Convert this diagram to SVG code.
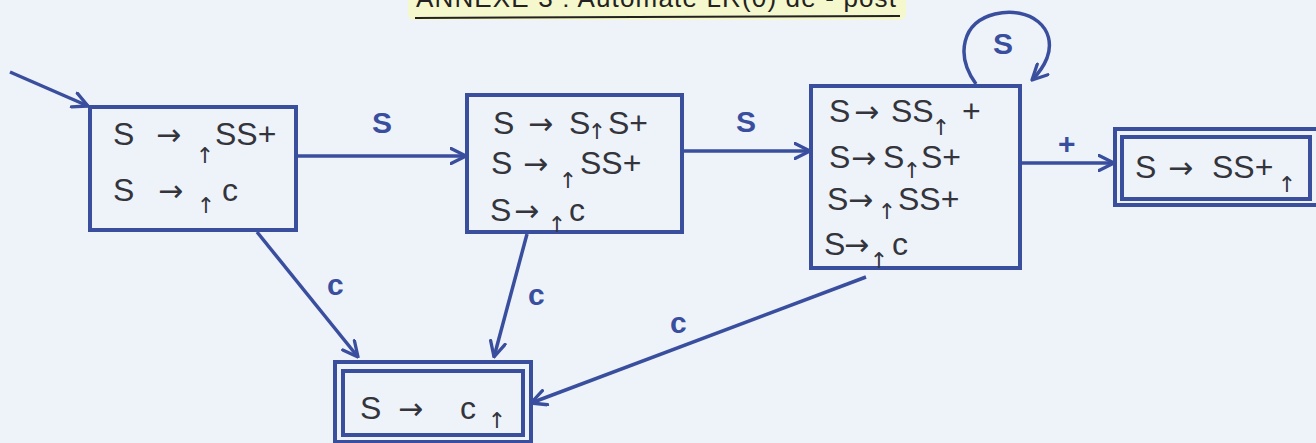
<svg xmlns="http://www.w3.org/2000/svg" width="1316" height="443" viewBox="0 0 1316 443">
<style>
.box{fill:none;stroke:#3a4e9e;stroke-width:4}
.edge{fill:none;stroke:#3a4e9e;stroke-width:3.5;marker-end:url(#ah)}
.t{font-family:"Liberation Sans",sans-serif;font-size:32px;fill:#34343c}
.ar{font-family:"DejaVu Sans",sans-serif;font-size:30px}
.up{font-family:"DejaVu Sans",sans-serif;font-size:22px;fill:#34343c;text-anchor:middle}
.lbl{font-family:"Liberation Sans",sans-serif;font-size:30px;fill:#3a4e9e;font-weight:bold}
</style>
<defs>
<marker id="ah" viewBox="0 0 12 12" refX="11" refY="6" markerWidth="18" markerHeight="18" markerUnits="userSpaceOnUse" orient="auto">
<path d="M1,1 L11,6 L1,11" fill="none" stroke="#3a4e9e" stroke-width="2.2" stroke-linejoin="round" stroke-linecap="round"/>
</marker>
</defs>
<rect width="1316" height="443" fill="#eef3fa"/>
<g id="title">
<rect x="408" y="-6" width="498" height="26" rx="6" fill="#f5f7cc"/>
<text x="416" y="7" font-family="'Liberation Sans',sans-serif" font-size="26" fill="#222" textLength="480">ANNEXE 3 : Automate LR(0) de - post</text>
<line x1="415" y1="18" x2="900" y2="16" stroke="#222" stroke-width="2"/>
</g>
<g id="connectors">
<line class="edge" x1="10" y1="72" x2="88" y2="106"/>
<line class="edge" x1="297" y1="156" x2="466" y2="156"/>
<line class="edge" x1="682" y1="151" x2="810" y2="151"/>
<line class="edge" x1="1020" y1="163" x2="1114" y2="163"/>
<line class="edge" x1="257" y1="232" x2="358" y2="357"/>
<line class="edge" x1="527" y1="234" x2="494" y2="357"/>
<line class="edge" x1="866" y1="277" x2="531" y2="403"/>
<path class="edge" d="M976,84 C955,55 962,22 995,14 C1030,6 1058,28 1047,58 C1043,68 1038,74 1032,80"/>
<text class="lbl" x="372" y="133">S</text>
<text class="lbl" x="736" y="132">S</text>
<text class="lbl" x="1058" y="154">+</text>
<text class="lbl" x="993" y="54" font-size="28">S</text>
<text class="lbl" x="327" y="295" font-size="26">c</text>
<text class="lbl" x="528" y="305" font-size="26">c</text>
<text class="lbl" x="670" y="333" font-size="26">c</text>
</g>
<g id="n1">
<rect class="box" x="90" y="107" width="206" height="123"/>
<text class="t"><tspan x="113" y="145">S</tspan><tspan class="ar" x="156" y="145">→</tspan><tspan x="215" y="145">SS+</tspan></text>
<text class="up" x="205" y="163">↑</text>
<text class="t"><tspan x="113" y="201">S</tspan><tspan class="ar" x="158" y="201">→</tspan><tspan x="222" y="201">c</tspan></text>
<text class="up" x="206" y="213">↑</text>
</g>
<g id="n2">
<rect class="box" x="467" y="95" width="215" height="137"/>
<text class="t"><tspan x="493" y="134">S</tspan><tspan class="ar" x="528" y="134">→</tspan><tspan x="569" y="134">S</tspan><tspan x="608" y="134">S+</tspan></text>
<text class="up" x="597" y="139" font-size="20">↑</text>
<text class="t"><tspan x="491" y="174">S</tspan><tspan class="ar" x="523" y="174">→</tspan><tspan x="580" y="174">SS+</tspan></text>
<text class="up" x="568" y="188">↑</text>
<text class="t"><tspan x="490" y="221">S</tspan><tspan class="ar" x="514" y="221">→</tspan><tspan x="569" y="221">c</tspan></text>
<text class="up" x="557" y="232">↑</text>
</g>
<g id="n3">
<rect class="box" x="811" y="86" width="209" height="182"/>
<text class="t"><tspan x="829" y="122">S</tspan><tspan class="ar" x="854" y="122">→</tspan><tspan x="891" y="122">SS</tspan><tspan x="962" y="122">+</tspan></text>
<text class="up" x="941" y="135">↑</text>
<text class="t"><tspan x="829" y="168">S</tspan><tspan class="ar" x="851" y="168">→</tspan><tspan x="883" y="168">S</tspan><tspan x="921" y="168">S+</tspan></text>
<text class="up" x="912" y="178">↑</text>
<text class="t"><tspan x="827" y="210">S</tspan><tspan class="ar" x="848" y="210">→</tspan><tspan x="898" y="210">SS+</tspan></text>
<text class="up" x="887" y="219">↑</text>
<text class="t"><tspan x="824" y="255">S</tspan><tspan class="ar" x="844" y="255">→</tspan><tspan x="892" y="255">c</tspan></text>
<text class="up" x="879" y="268">↑</text>
</g>
<g id="n4">
<rect class="box" x="1115" y="129" width="210" height="76"/>
<rect class="box" x="1122" y="137" width="188" height="62" stroke-width="3"/>
<text class="t"><tspan x="1135" y="178">S</tspan><tspan class="ar" x="1168" y="178">→</tspan><tspan x="1212" y="178">SS+</tspan></text>
<text class="up" x="1287" y="192">↑</text>
</g>
<g id="n5">
<rect class="box" x="335" y="362" width="196" height="80"/>
<rect class="box" x="343" y="371" width="180" height="64" stroke-width="3"/>
<text class="t" font-size="36"><tspan x="360" y="419">S</tspan><tspan class="ar" x="398" y="419" font-size="34">→</tspan><tspan x="460" y="419">c</tspan></text>
<text class="up" x="497" y="428" font-size="26">↑</text>
</g>
</svg>
